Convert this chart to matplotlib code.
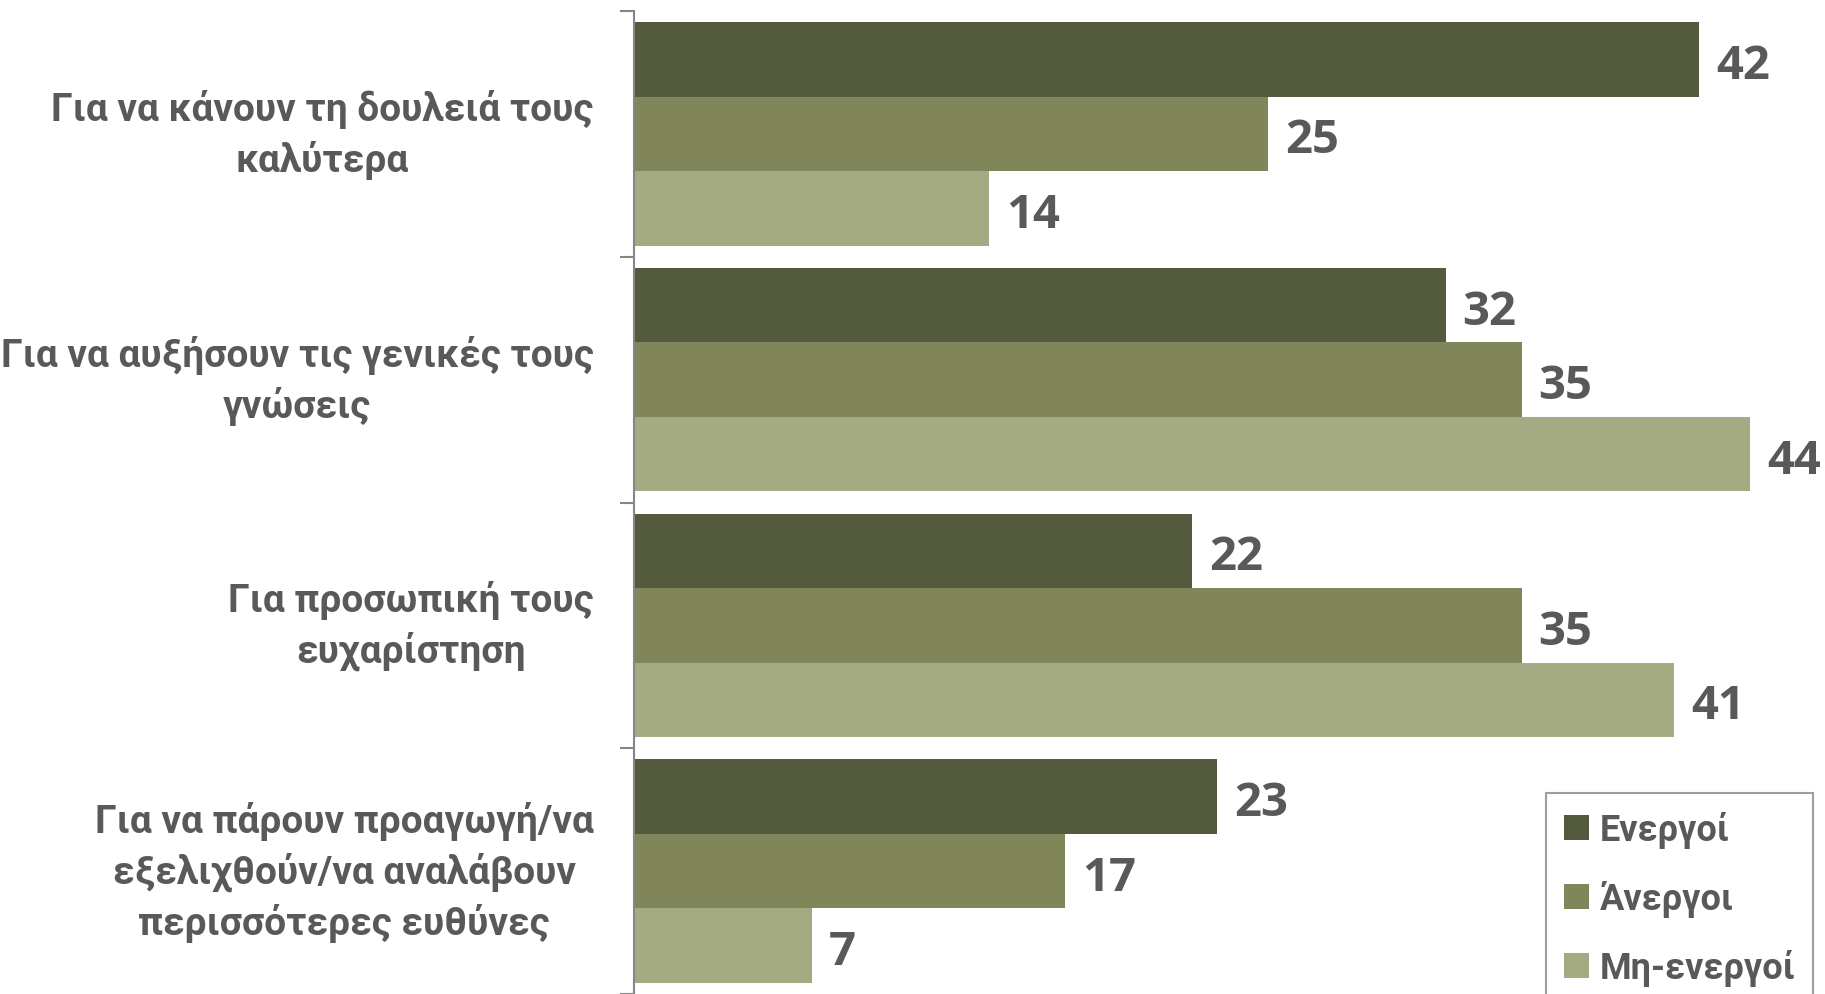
import numpy as np
import matplotlib
matplotlib.use('Agg')
import matplotlib.pyplot as plt

# -----------------------------------------------------------------------------------------------------------
# Grouped horizontal bar chart: reasons for training by employment status
# -----------------------------------------------------------------------------------------------------------

categories = ['Για να κάνουν τη δουλειά τους\nκαλύτερα',
              'Για να αυξήσουν τις γενικές τους\nγνώσεις',
              'Για προσωπική τους\nευχαρίστηση',
              'Για να πάρουν προαγωγή/να\nεξελιχθούν/να αναλάβουν\nπερισσότερες ευθύνες']
series_names = ['Ενεργοί', 'Άνεργοι', 'Μη-ενεργοί']
energoi = [42, 32, 22, 23]
anergoi = [25, 35, 35, 17]
mi_energoi = [14, 44, 41, 7]

colors = ['#545a3e', '#80865a', '#a4aa82']
text_color = '#595959'
label_font = ['Roboto', 'DejaVu Sans']

plt.rcParams['font.family'] = ['Open Sans', 'DejaVu Sans']

W, H = 1825, 995
fig = plt.figure(figsize=(W / 100, H / 100), dpi=100)
ax = fig.add_axes([634 / W, 0, 1192 / W, 983 / H])

y = np.arange(len(categories))
bar_h = 0.91 / 3
for k, (name, vals) in enumerate(zip(series_names, [energoi, anergoi, mi_energoi])):
    pos = y + (k - 1) * bar_h
    bars = ax.barh(pos, vals, height=bar_h, color=colors[k], label=name, zorder=2)
    for b, v in zip(bars, vals):
        # value label just right of the bar end
        ax.annotate(str(v), (b.get_width(), b.get_y() + b.get_height() / 2),
                    xytext=(17, -6), textcoords='offset pixels', ha='left', va='center',
                    fontsize=34, fontweight='bold', color=text_color)

ax.set_xlim(0, 47)
ax.set_ylim(len(categories) - 0.5, -0.5)

ax.set_yticks(y)
ax.set_yticklabels(categories, fontsize=28, fontweight='bold', color=text_color,
                   family=label_font, multialignment='center', linespacing=1.38,
                   va='center')
ax.tick_params(axis='y', which='major', length=0, pad=29)
ax.set_yticks(np.arange(len(categories) + 1) - 0.5, minor=True)
ax.tick_params(axis='y', which='minor', length=10, width=1.5, color='#868686')
ax.set_xticks([])

for s in ['top', 'right', 'bottom']:
    ax.spines[s].set_visible(False)
ax.spines['left'].set_color('#868686')
ax.spines['left'].set_linewidth(1.5)

leg = fig.legend(loc='upper left', bbox_to_anchor=(1546 / W, 1 - 794 / H),
                 prop={'family': label_font, 'size': 26, 'weight': 'bold'},
                 frameon=True, fancybox=False, borderpad=0.5,
                 labelspacing=0.89, handlelength=0.68, handleheight=0.68,
                 handletextpad=0.3, borderaxespad=0)
leg.get_frame().set_edgecolor('#868686')
leg.get_frame().set_linewidth(1.5)
for t in leg.get_texts():
    t.set_color(text_color)

fig.savefig('out.png', dpi=100)
